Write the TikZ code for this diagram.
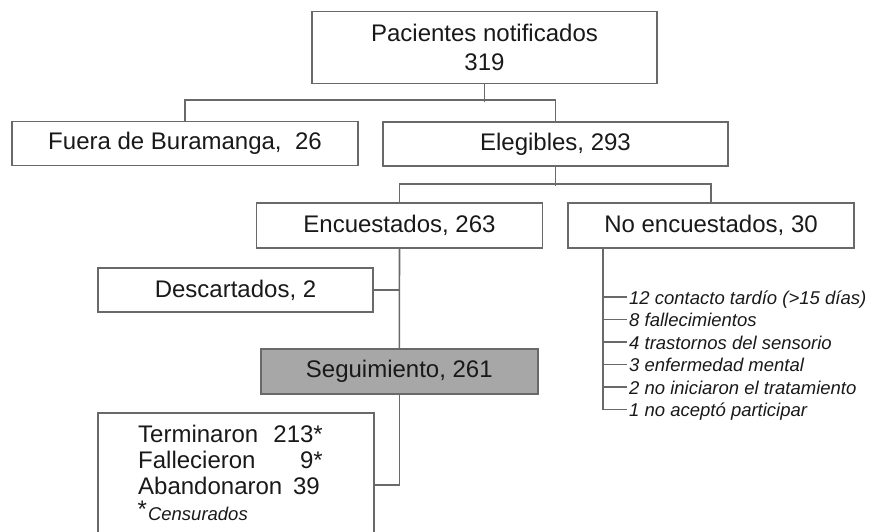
\documentclass[tikz,border=0pt]{standalone}
\usepackage{fontspec}
\setmainfont{Liberation Sans}
\definecolor{ln}{RGB}{105,105,105}
\definecolor{fillg}{RGB}{167,167,167}
\definecolor{tx}{RGB}{25,25,25}
\begin{document}
\begin{tikzpicture}[x=1pt,y=-1pt,
  box/.style={draw=ln, line width=1.6pt, minimum height=44pt, inner sep=0pt,
    font=\fontsize{24}{28.3}\selectfont, text=tx},
  conn/.style={draw=ln, line width=1.6pt},
  item/.style={anchor=base west, inner sep=0pt, text=tx,
    font=\fontsize{18.5}{22}\selectfont\itshape},
  rtxt/.style={inner sep=0pt, text=tx, font=\fontsize{24}{28}\selectfont}]
\useasboundingbox (0,0) rectangle (871,531);
\node[box, minimum width=345pt, minimum height=72pt, align=center] (pac) at (484.5,47.5) {Pacientes notificados\\319};
\node[box, minimum width=346pt] (fuera) at (185,143.5) {Fuera de Buramanga,\ \ 26};
\node[box, minimum width=345pt] (eleg) at (555.5,144) {Elegibles, 293};
\node[box, minimum width=286pt, minimum height=45pt] (enc) at (399.5,225.5) {Encuestados, 263};
\node[box, minimum width=286pt, minimum height=45pt] (noenc) at (711,225.5) {No encuestados, 30};
\node[box, minimum width=275pt] (desc) at (235.5,290) {Descartados, 2};
\node[box, fill=fillg, minimum width=277pt, minimum height=45pt] (seg) at (399.3,371.5) {Seguimiento, 261};
\begin{scope}
\clip (0,0) rectangle (871,531);
\node[draw=ln, line width=1.6pt, minimum width=276pt, minimum height=144pt, inner sep=0pt] (res) at (236,485) {};
\end{scope}
% results text
\node[rtxt, anchor=base west] (t1) at (138,442) {Terminaron};
\node[rtxt, anchor=base east] (n1) at (323,442) {213*};
\node[rtxt, anchor=base west] (t2) at (138,468) {Fallecieron};
\node[rtxt, anchor=base east] (n2) at (323,468) {9*};
\node[rtxt, anchor=base west] (t3) at (138,494) {Abandonaron};
\node[rtxt, anchor=base east] (n3) at (320,494) {39};
\node[inner sep=0pt, anchor=base west, text=tx] (cens) at (137.5,520) {\fontsize{24}{28}\selectfont\raisebox{3pt}{*}\kern1pt\fontsize{18.5}{22}\selectfont\itshape Censurados};
% items
\node[item] (i1) at (629,304) {12 contacto tardío (>15 días)};
\node[item] (i2) at (629,326.5) {8 fallecimientos};
\node[item] (i3) at (629,349) {4 trastornos del sensorio};
\node[item] (i4) at (629,371.5) {3 enfermedad mental};
\node[item] (i5) at (629,394) {2 no iniciaron el tratamiento};
\node[item] (i6) at (629,416.5) {1 no aceptó participar};
\foreach \i in {1,...,6}{
  \coordinate (e\i) at ([xshift=-2pt,yshift=7pt]i\i.base west);
}
% connectors
\draw[conn] (pac.south) -- ++(0,18);
\draw[conn] (fuera.north) -- ++(0,-21) -| (eleg.north);
\draw[conn] (eleg.south) -- ++(0,19);
\draw[conn] (enc.north) -- ++(0,-18) -| (noenc.north);
\draw[conn] (enc.south) -- (seg.north);
\draw[conn] (desc.east) -- (desc.east -| enc.south);
\draw[conn] (seg.south) |- (res.east);
\coordinate (nv) at ([xshift=-108pt]noenc.south);
\draw[conn] (nv) |- (e6);
\foreach \i in {1,...,5}{
  \draw[conn] (nv |- e\i) -- (e\i);
}
\end{tikzpicture}
\end{document}
